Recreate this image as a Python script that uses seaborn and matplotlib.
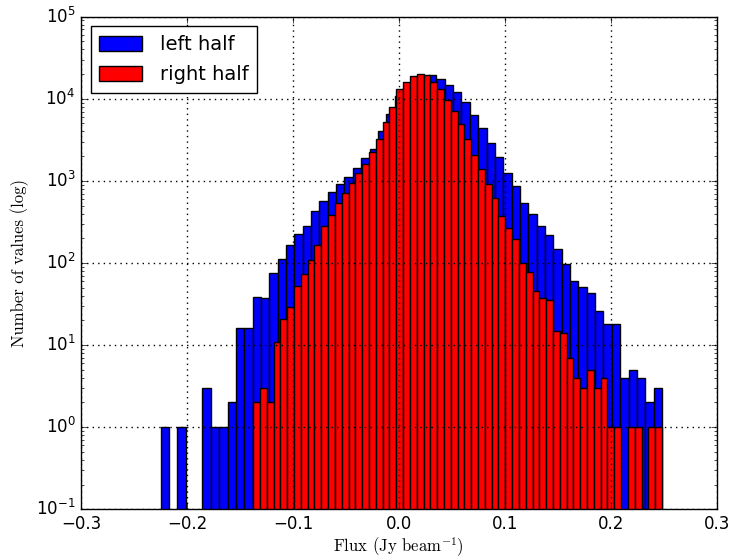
import numpy as np
import pandas as pd
import matplotlib
matplotlib.use("Agg")
import matplotlib.pyplot as plt
import seaborn as sns

# Histogram counts per bin (60 equal-width bins over each sample's range)
left_counts = [
    1, 0, 1, 0, 0, 3, 1, 1, 2, 16,
    16, 39, 37, 75, 111, 164, 225, 284, 427, 569,
    726, 915, 1125, 1450, 1910, 2450, 4090, 6470, 10800, 13500,
    16500, 18700, 19300, 17600, 14700, 12100, 9060, 6400, 4370, 2890,
    1945, 1240, 875, 533, 398, 282, 221, 148, 97, 61,
    51, 43, 26, 18, 18, 4, 5, 4, 2, 3,
]
right_counts = [
    2, 3, 2, 11, 21, 29, 52, 73, 108, 164,
    284, 385, 542, 706, 935, 1250, 1590, 2270, 3240, 5170,
    7870, 13100, 15900, 19100, 19900, 19300, 16000, 13100, 9760, 7100,
    4890, 3240, 2050, 1395, 920, 624, 373, 267, 198, 101,
    77, 46, 37, 35, 15, 14, 7, 4, 3, 5,
    3, 4, 1, 1, 0, 1, 1, 0, 1, 1,
]
# Flux range (Jy/beam) covered by each half
left_range = (-0.2248, 0.2484)
right_range = (-0.1375, 0.2484)
n_bins = 60

series_labels = ["left half", "right half"]
series_colors = ["blue", "red"]

x_ticks = [-0.3, -0.2, -0.1, 0.0, 0.1, 0.2, 0.3]

plt.style.use("classic")
plt.rcParams["figure.facecolor"] = "white"
plt.rcParams["savefig.facecolor"] = "white"
plt.rcParams["mathtext.fontset"] = "cm"

fig = plt.figure(figsize=(7.33, 5.58), dpi=100)
ax = fig.add_axes([0.1105, 0.0873, 0.8672, 0.8828])

for counts, rng, color, label in zip(
    [left_counts, right_counts], [left_range, right_range], series_colors, series_labels
):
    edges = np.linspace(rng[0], rng[1], n_bins + 1)
    df = pd.DataFrame({
        "flux": 0.5 * (edges[:-1] + edges[1:]),
        "n": np.asarray(counts, dtype=float),
    })
    sns.histplot(
        data=df, x="flux", weights="n", bins=list(edges),
        color=color, edgecolor="black", linewidth=1.0, alpha=1.0,
        ax=ax, label=label,
    )

ax.set_yscale("log")
ax.set_xlim(-0.3, 0.3)
ax.set_ylim(0.1, 1e5)
ax.set_xticks(x_ticks)
ax.grid(True, which="major", color="black", linestyle=":", linewidth=1.0)
ax.set_axisbelow(False)

ax.set_xlabel(r"Flux (Jy beam$^{-1}$)", family="cmr10", fontsize=12, labelpad=2)
ax.set_ylabel("Number of values (log)", family="cmr10", fontsize=12)

ax.legend(loc="upper left", fontsize=14, frameon=True, fancybox=False,
          handlelength=2.2, handleheight=0.8, handletextpad=0.9,
          borderpad=0.45, labelspacing=0.55, borderaxespad=0.5)

fig.savefig("out.png", dpi=100)
